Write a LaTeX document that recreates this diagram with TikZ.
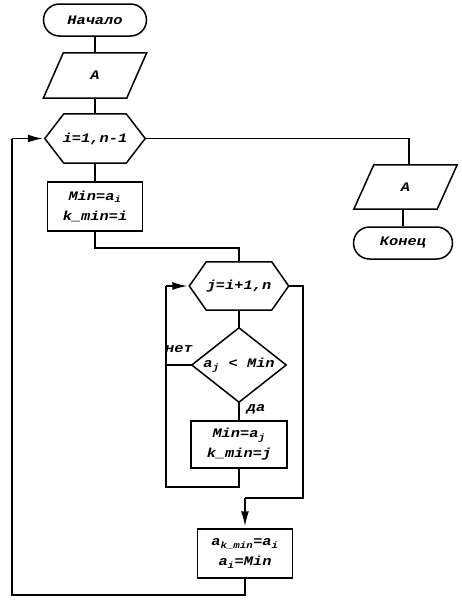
\documentclass[tikz,border=0pt]{standalone}
\usepackage{fontspec}
\setmainfont{Liberation Mono}[FakeStretch=1.18]
\usetikzlibrary{arrows.meta}
\newcommand{\tfont}{\fontsize{13}{20}\selectfont\bfseries\itshape}
\begin{document}
\begin{tikzpicture}[x=1pt,y=-1pt,
  ln/.style={line width=1.5pt},
  blk/.style 2 args={rectangle, minimum width=#1, minimum height=#2, inner sep=0pt, align=center, font=\tfont},
  boxd/.style={draw, ln},
  term/.style={draw, ln, rounded corners=16pt},
  arr/.style={ln, -{Latex[length=15pt,width=8pt]}, shorten >=2pt},
  lbl/.style={font=\tfont, inner sep=0pt}]
\useasboundingbox (0,0) rectangle (461,600);
% nodes
\node[blk={103pt}{32pt}, term] (start) at (95,20) {Начало};
\node[blk={103pt}{45pt}] (ia) at (95,75.5) {A};
\draw[ln] (ia.south west) -- ([xshift=20pt]ia.north west) -- (ia.north east) -- ([xshift=-20pt]ia.south east) -- cycle;
\node[blk={100pt}{49pt}] (hi) at (95,138.5) {i=1,n-1};
\draw[ln] (hi.west) -- ([xshift=19pt]hi.north west) -- ([xshift=-19pt]hi.north east) -- (hi.east) -- ([xshift=-19pt]hi.south east) -- ([xshift=19pt]hi.south west) -- cycle;
\node[blk={95pt}{49pt}, boxd] (b1) at (95,206.5) {Min=a\textsubscript{i}\\k\_min=i};
\node[blk={99pt}{48pt}] (hj) at (239,286) {j=i+1,n};
\draw[ln] (hj.west) -- ([xshift=17pt]hj.north west) -- ([xshift=-17pt]hj.north east) -- (hj.east) -- ([xshift=-17pt]hj.south east) -- ([xshift=17pt]hj.south west) -- cycle;
\node[blk={94pt}{74pt}] (dia) at (239,365) {a\textsubscript{j} < Min};
\draw[ln] (dia.north) -- (dia.east) -- (dia.south) -- (dia.west) -- cycle;
\node[blk={96pt}{47pt}, boxd] (b2) at (239,444.5) {Min=a\textsubscript{j}\\k\_min=j};
\node[blk={95pt}{49pt}, boxd] (b3) at (245,553.5) {a\textsubscript{k\_min}=a\textsubscript{i}\\a\textsubscript{i}=Min};
\node[blk={103pt}{44pt}] (oa) at (405.5,187) {A};
\draw[ln] (oa.south west) -- ([xshift=20pt]oa.north west) -- (oa.north east) -- ([xshift=-20pt]oa.south east) -- cycle;
\node[blk={99pt}{32pt}, term] (endt) at (403,243) {Конец};
% labels
\node[lbl] (lno) at (179,349) {нет};
\node[lbl] (lyes) at (256,409) {да};
% connectors
\draw[ln] (start) -- (ia);
\draw[ln] (ia) -- (hi);
\draw[ln] (hi) -- (b1);
\coordinate (k1) at (95,248);
\draw[ln] (b1.south) -- (k1) -| (hj.north);
\draw[ln] (hj) -- (dia);
\draw[ln] (dia) -- (b2);
\coordinate (lb) at (166,487);
\coordinate (lt) at (166,286);
\draw[ln] (b2.south) |- (lb) -- (lt);
\draw[arr] (lt) -- (hj.west);
\draw[ln] (dia.west) -- (dia.west -| lt);
\coordinate (r1) at (303,286);
\coordinate (r2) at (303,498);
\coordinate (r3) at (245,498);
\draw[ln] (hj.east) -- (r1) -- (r2) -- (r3);
\draw[arr] (r3) -- (b3.north);
\coordinate (o1) at (12,595);
\coordinate (o2) at (12,138.5);
\draw[ln] (b3.south) |- (o1) -- (o2);
\draw[arr] (o2) -- (hi.west);
\coordinate (e1) at (409,138.5);
\draw[ln] (hi.east) -- (e1) -- (e1 |- oa.north);
\draw[ln] (endt.north |- oa.south) -- (endt.north);
\end{tikzpicture}
\end{document}
